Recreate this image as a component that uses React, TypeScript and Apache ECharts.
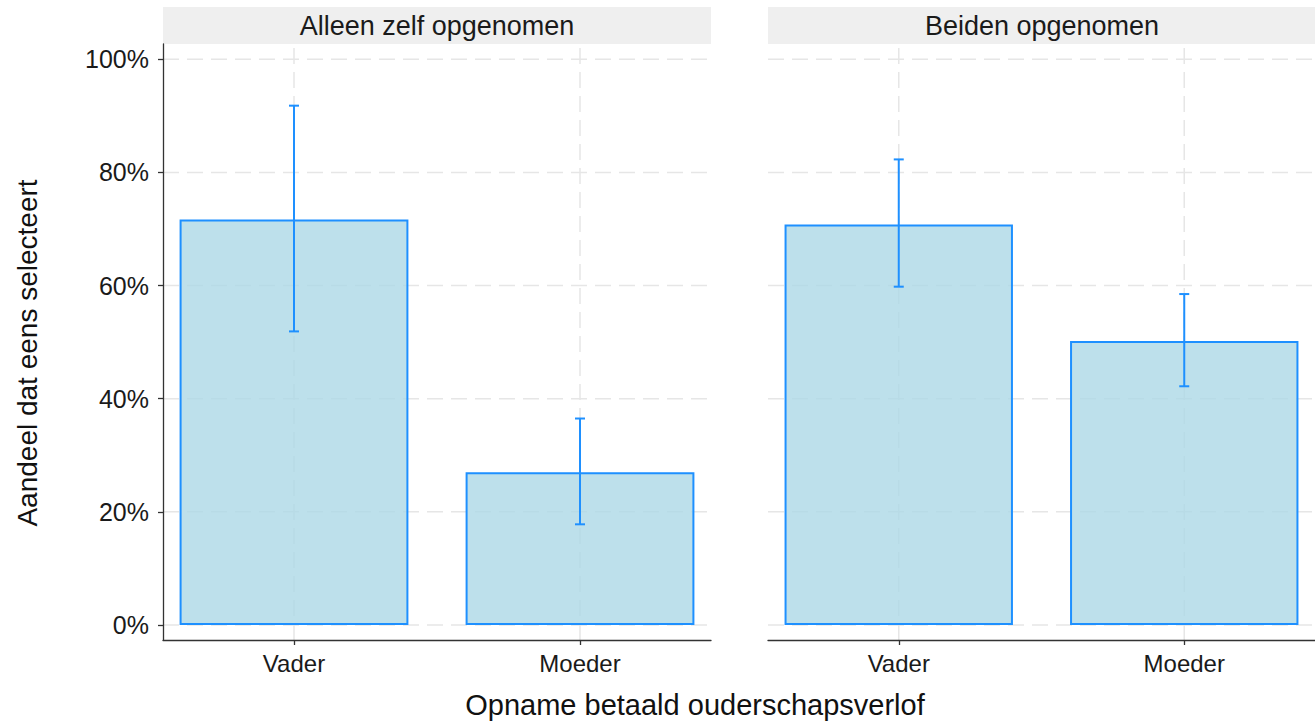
import React, { useEffect, useRef } from "react";
import * as echarts from "echarts";

const panels = ["Alleen zelf opgenomen", "Beiden opgenomen"];
const categories = ["Vader", "Moeder"];
const aloneValues = [71.7, 27.0];
const aloneLower = [51.9, 17.8];
const aloneUpper = [91.8, 36.5];
const bothValues = [70.8, 50.2];
const bothLower = [59.8, 42.2];
const bothUpper = [82.3, 58.5];
const yTicks = [0, 20, 40, 60, 80, 100];
const xTitle = "Opname betaald ouderschapsverlof";
const yTitle = "Aandeel dat eens selecteert";

const FONT = "Liberation Sans, Arial, Helvetica, sans-serif";
const BLUE = "#1E90FF";
const AXIS = "#333333";

export default function App() {
  const ref = useRef<HTMLDivElement>(null);

  useEffect(() => {
    if (!ref.current) return;
    const chart = echarts.init(ref.current, null, { renderer: "svg" });
    const positions = categories.map((_, i) => i + 1);
    const panelData = [
      { values: aloneValues, lower: aloneLower, upper: aloneUpper },
      { values: bothValues, lower: bothLower, upper: bothUpper },
    ];
    const grids = [
      { left: 163, top: 44, width: 548, height: 596 },
      { left: 768, top: 44, width: 548, height: 596 },
    ];
    const xMin = 0.542;
    const xMax = 2.458;
    const yMin = -2.65;
    const yMax = 102.7;

    const xAxes = grids.map((_, i) => ({
      type: "value",
      gridIndex: i,
      min: xMin,
      max: xMax,
      axisLine: { show: true, onZero: false, lineStyle: { color: AXIS, width: 1.3 } },
      axisTick: { show: true, customValues: positions, length: 5, lineStyle: { color: AXIS, width: 1.3 } },
      axisLabel: {
        customValues: positions,
        formatter: (v: number) => categories[Math.round(v) - 1] ?? "",
        fontSize: 24,
        color: "#1a1a1a",
        fontFamily: FONT,
        margin: 11,
      },
      splitLine: { show: false },
    }));

    const yAxes = grids.map((_, i) => ({
      type: "value",
      gridIndex: i,
      min: yMin,
      max: yMax,
      axisLine: { show: i === 0, onZero: false, lineStyle: { color: AXIS, width: 1.3 } },
      axisTick: { show: i === 0, customValues: yTicks, length: 5, lineStyle: { color: AXIS, width: 1.3 } },
      axisLabel: {
        show: i === 0,
        customValues: yTicks,
        formatter: (v: number) => `${v}%`,
        fontSize: 25,
        color: "#1a1a1a",
        fontFamily: FONT,
        margin: 14,
      },
      splitLine: { show: false },
    }));

    const gridStyle = { stroke: "#e6e6e6", lineWidth: 1.5, lineDash: [16, 8] };

    const series: any[] = [];
    panelData.forEach((pd, i) => {
      // horizontal gridlines
      series.push({
        type: "custom",
        xAxisIndex: i,
        yAxisIndex: i,
        z: 0,
        silent: true,
        data: yTicks.map((v) => [v]),
        encode: { y: 0 },
        renderItem: (_p: any, api: any) => {
          const v = api.value(0);
          const a = api.coord([xMin, v]);
          const b = api.coord([xMax, v]);
          return { type: "line", shape: { x1: a[0], y1: a[1], x2: b[0], y2: b[1] }, style: gridStyle };
        },
      });
      // vertical gridlines
      series.push({
        type: "custom",
        xAxisIndex: i,
        yAxisIndex: i,
        z: 0,
        silent: true,
        data: positions.map((p) => [p]),
        encode: { x: 0 },
        renderItem: (_p: any, api: any) => {
          const v = api.value(0);
          const a = api.coord([v, yMin]);
          const b = api.coord([v, yMax]);
          return { type: "line", shape: { x1: a[0], y1: a[1], x2: b[0], y2: b[1] }, style: gridStyle };
        },
      });
      series.push({
        type: "bar",
        xAxisIndex: i,
        yAxisIndex: i,
        barWidth: "80%",
        z: 2,
        data: positions.map((p, j) => [p, pd.values[j]]),
        itemStyle: { color: "rgba(173,216,230,0.8)", borderColor: BLUE, borderWidth: 2 },
      });
      series.push({
        type: "custom",
        xAxisIndex: i,
        yAxisIndex: i,
        z: 3,
        data: positions.map((p, j) => [p, pd.lower[j], pd.upper[j]]),
        encode: { x: 0, y: [1, 2] },
        renderItem: (_params: any, api: any) => {
          const x = api.value(0);
          const lo = api.coord([x, api.value(1)]);
          const hi = api.coord([x, api.value(2)]);
          const half = 5;
          const style = { stroke: BLUE, lineWidth: 2 };
          return {
            type: "group",
            children: [
              { type: "line", shape: { x1: lo[0], y1: lo[1], x2: hi[0], y2: hi[1] }, style },
              { type: "line", shape: { x1: hi[0] - half, y1: hi[1], x2: hi[0] + half, y2: hi[1] }, style },
              { type: "line", shape: { x1: lo[0] - half, y1: lo[1], x2: lo[0] + half, y2: lo[1] }, style },
            ],
          };
        },
      });
    });

    const graphic: any[] = [];
    grids.forEach((g, i) => {
      graphic.push({
        type: "rect",
        shape: { x: g.left, y: 7, width: g.width, height: 37 },
        style: { fill: "#efefef" },
        silent: true,
      });
      graphic.push({
        type: "text",
        x: g.left + g.width / 2,
        y: 26,
        style: {
          text: panels[i],
          fontSize: 27,
          fontFamily: FONT,
          fill: "#1a1a1a",
          align: "center",
          verticalAlign: "middle",
        },
        silent: true,
      });
    });
    graphic.push({
      type: "text",
      x: 695,
      y: 705,
      style: {
        text: xTitle,
        fontSize: 29,
        fontFamily: FONT,
        fill: "#111",
        align: "center",
        verticalAlign: "middle",
      },
      silent: true,
    });
    graphic.push({
      type: "text",
      x: 27,
      y: 353,
      rotation: Math.PI / 2,
      style: {
        text: yTitle,
        fontSize: 28,
        fontFamily: FONT,
        fill: "#111",
        align: "center",
        verticalAlign: "middle",
      },
      silent: true,
    });

    chart.setOption({
      animation: false,
      backgroundColor: "#ffffff",
      grid: grids.map((g) => ({ ...g, containLabel: false })),
      xAxis: xAxes,
      yAxis: yAxes,
      series,
      graphic,
    });

    return () => chart.dispose();
  }, []);

  return (
    <div
      ref={ref}
      style={{ position: "fixed", left: 0, top: 0, width: 1315, height: 722 }}
    />
  );
}
